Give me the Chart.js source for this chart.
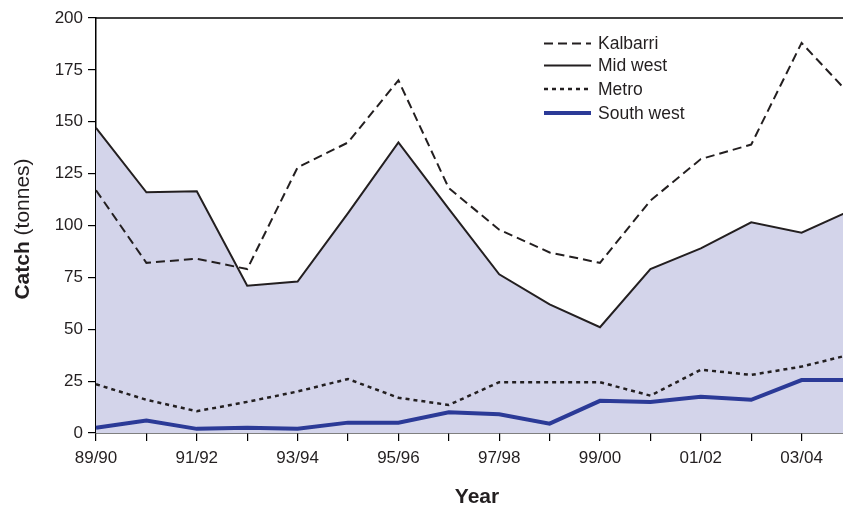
<!DOCTYPE html>
<html>
<head>
<meta charset="utf-8">
<script src="https://cdn.jsdelivr.net/npm/chart.js@4/dist/chart.umd.min.js"></script>
<style>
  html, body { margin: 0; padding: 0; background: #fff; overflow: hidden; width: 843px; height: 506px; }
  #wrap { position: absolute; left: 0; top: 0; width: 870px; height: 506px; }
</style>
</head>
<body>
<div id="wrap"><canvas id="catchChart" width="870" height="506"></canvas></div>
<script>
// Catch by region, seasons 89/90 .. 04/05 (last season is cut off at the right edge)
const years = ['89/90', '90/91', '91/92', '92/93', '93/94', '94/95', '95/96', '96/97',
               '97/98', '98/99', '99/00', '00/01', '01/02', '02/03', '03/04', '04/05'];
const kalbarri  = [117, 82, 84, 79, 128, 140, 170, 118, 98, 87, 82, 112, 132, 139, 188, 162];
const midWest   = [147, 116, 116.5, 71, 73, 106, 140, 108, 76.5, 62, 51, 79, 89, 101.5, 96.5, 107.5];
const metro     = [23.5, 16, 10.5, 15, 20, 26, 17, 13.5, 24.5, 24.5, 24.5, 18, 30.5, 28, 32, 38];
const southWest = [2.5, 6, 2, 2.5, 2, 5, 5, 10, 9, 4.5, 15.5, 15, 17.5, 16, 25.5, 25.5];
const yTicks = [0, 25, 50, 75, 100, 125, 150, 175, 200];

const textColor = '#231f20';
const fontFamily = '"Liberation Sans", Arial, sans-serif';

// legend, axis titles and top frame line
const decorPlugin = {
  id: 'decor',
  afterDraw(chart) {
    const ctx = chart.ctx;
    const area = chart.chartArea;
    ctx.save();

    // top frame
    ctx.strokeStyle = '#000';
    ctx.lineWidth = 1.5;
    ctx.beginPath();
    ctx.moveTo(area.left, area.top);
    ctx.lineTo(area.right, area.top);
    ctx.stroke();

    // legend
    const rows = [43.5, 65.5, 89, 113];
    chart.data.datasets.forEach((ds, i) => {
      const y = rows[i];
      ctx.strokeStyle = ds.borderColor;
      ctx.lineWidth = ds.borderWidth;
      ctx.setLineDash(ds.borderDash || []);
      ctx.beginPath();
      ctx.moveTo(544, y);
      ctx.lineTo(591, y);
      ctx.stroke();
      ctx.setLineDash([]);
      ctx.fillStyle = textColor;
      ctx.font = '17.5px ' + fontFamily;
      ctx.textBaseline = 'middle';
      ctx.textAlign = 'left';
      ctx.fillText(ds.label, 598, y + 1);
    });

    // x title
    ctx.font = 'bold 21px ' + fontFamily;
    ctx.textAlign = 'center';
    ctx.textBaseline = 'alphabetic';
    ctx.fillText('Year', 477, 503);

    // y title, "Catch" bold + " (tonnes)" normal
    ctx.translate(29, 229);
    ctx.rotate(-Math.PI / 2);
    const boldPart = 'Catch';
    const normPart = ' (tonnes)';
    ctx.font = 'bold 21px ' + fontFamily;
    const w1 = ctx.measureText(boldPart).width;
    ctx.font = '21px ' + fontFamily;
    const w2 = ctx.measureText(normPart).width;
    let x0 = -(w1 + w2) / 2;
    ctx.textAlign = 'left';
    ctx.font = 'bold 21px ' + fontFamily;
    ctx.fillText(boldPart, x0, 0);
    ctx.font = '21px ' + fontFamily;
    ctx.fillText(normPart, x0 + w1, 0);

    ctx.restore();
  }
};

const ctx = document.getElementById('catchChart').getContext('2d');
const catchChart = new Chart(ctx, {
  type: 'line',
  data: {
    labels: years,
    datasets: [
      {
        label: 'Kalbarri',
        data: kalbarri,
        borderColor: '#231f20',
        borderWidth: 2,
        borderDash: [9, 5],
        pointRadius: 0,
        fill: false,
        tension: 0
      },
      {
        label: 'Mid west',
        data: midWest,
        borderColor: '#231f20',
        borderWidth: 2,
        backgroundColor: '#d3d4ea',
        pointRadius: 0,
        fill: 'origin',
        tension: 0
      },
      {
        label: 'Metro',
        data: metro,
        borderColor: '#231f20',
        borderWidth: 2.5,
        borderDash: [4, 4],
        pointRadius: 0,
        fill: false,
        tension: 0
      },
      {
        label: 'South west',
        data: southWest,
        borderColor: '#2b3a97',
        borderWidth: 4,
        pointRadius: 0,
        fill: false,
        tension: 0
      }
    ]
  },
  options: {
    responsive: false,
    animation: false,
    layout: { padding: { top: 18, right: 18, left: 0, bottom: 0 } },
    plugins: {
      legend: { display: false },
      tooltip: { enabled: false },
      filler: { drawTime: 'beforeDatasetsDraw' }
    },
    scales: {
      x: {
        offset: false,
        grid: { display: true, drawOnChartArea: false, color: '#000', tickLength: 8, lineWidth: 1.2 },
        border: { display: true, color: '#000', width: 1.5 },
        ticks: {
          autoSkip: false,
          maxRotation: 0,
          padding: 7,
          color: textColor,
          font: { family: fontFamily, size: 17 },
          callback: function (value, index) {
            return index % 2 === 0 ? years[index] : '';
          }
        },
        afterFit(scale) { scale.height = 73; }
      },
      y: {
        min: 0,
        max: 200,
        afterBuildTicks(scale) { scale.ticks = yTicks.map(v => ({ value: v })); },
        grid: { display: true, drawOnChartArea: false, color: '#000', tickLength: 8, lineWidth: 1.2 },
        border: { display: true, color: '#000', width: 1.5 },
        ticks: {
          padding: 5,
          color: textColor,
          font: { family: fontFamily, size: 17 }
        },
        afterFit(scale) { scale.width = 96; }
      }
    }
  },
  plugins: [decorPlugin]
});
</script>
</body>
</html>
